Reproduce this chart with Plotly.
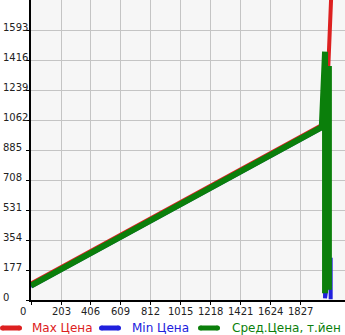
import plotly.graph_objects as go

# x tick / y tick values
x_ticks = [0, 203, 406, 609, 812, 1015, 1218, 1421, 1624, 1827]
y_ticks = [0, 177, 354, 531, 708, 885, 1062, 1239, 1416, 1593]

# series
series_names = ['Max Цена', 'Min Цена', 'Сред.Цена, т.йен']

max_x = [0, 1969, 2012, 2032]
max_y = [97, 1032, 1375, 1800]

min_x = [0, 1969, 1990, 1990, 2028, 2028]
min_y = [80, 1015, 1000, 10, 250, 5]

avg_x = [0, 1968, 1990, 1990, 2016, 2016]
avg_y = [85, 1020, 1465, 40, 1380, 60]

RED = '#dd2020'
BLUE = '#2020dd'
GREEN = '#0b7f0b'
COLORS = [RED, BLUE, GREEN]
FONT = 'DejaVu Sans'

fig = go.Figure()
fig.add_trace(go.Scatter(x=max_x, y=max_y, mode='lines', name=series_names[0],
                         line=dict(color=RED, width=4)))
fig.add_trace(go.Scatter(x=min_x, y=min_y, mode='lines', name=series_names[1],
                         line=dict(color=BLUE, width=4)))
fig.add_trace(go.Scatter(x=avg_x, y=avg_y, mode='lines', name=series_names[2],
                         line=dict(color=GREEN, width=6)))

L, PW, PH = 31, 314, 300
def px_x(p):
    return (p - L) / PW
def px_y(p):
    return (PH - p) / PH

annotations = []
shapes = []
for v in y_ticks:
    annotations.append(dict(x=0, xref='paper', xshift=-30, y=v, yref='y', yshift=3,
                            text=str(v), showarrow=False, xanchor='left', yanchor='middle',
                            font=dict(family=FONT, size=10, color='#222222')))
for v in x_ticks:
    annotations.append(dict(x=v, xref='x', xshift=(-8 if v == 0 else 0), y=0, yref='paper',
                            yshift=-11, text=str(v), showarrow=False,
                            xanchor='center', yanchor='middle',
                            font=dict(family=FONT, size=10, color='#222222')))

# legend (drawn manually: rounded line symbol + coloured label)
leg_items = [(0, 30), (99, 130), (198, 230)]
LY = 328
for (lx, tx), name, col in zip(leg_items, series_names, COLORS):
    common = dict(xref='paper', yref='paper', xsizemode='pixel', ysizemode='pixel',
                  xanchor=px_x(lx), yanchor=px_y(LY), fillcolor=col,
                  line=dict(width=0), layer='above')
    shapes.append(dict(type='rect', x0=2.5, x1=19.5, y0=-2.5, y1=2.5, **common))
    shapes.append(dict(type='circle', x0=0, x1=5, y0=-2.5, y1=2.5, **common))
    shapes.append(dict(type='circle', x0=17, x1=22, y0=-2.5, y1=2.5, **common))
    annotations.append(dict(x=px_x(tx), xref='paper', y=px_y(LY), yref='paper',
                            text=name, showarrow=False, xanchor='left', yanchor='middle',
                            font=dict(family=FONT, size=12, color=col)))

fig.update_layout(
    width=345, height=335,
    margin=dict(l=31, r=0, t=0, b=35, autoexpand=False),
    paper_bgcolor='white', plot_bgcolor='#f6f6f6',
    font=dict(family=FONT, size=10, color='#222222'),
    showlegend=False,
    annotations=annotations,
    shapes=shapes,
)
fig.update_xaxes(range=[0, 2125], tickvals=x_ticks, showticklabels=False,
                 showgrid=True, gridcolor='#c4c4c4', gridwidth=1,
                 showline=True, linecolor='black', linewidth=2,
                 ticks='outside', ticklen=3, tickcolor='black',
                 zeroline=False, fixedrange=True)
fig.update_yaxes(range=[0, 1770], tickvals=y_ticks, showticklabels=False,
                 showgrid=True, gridcolor='#c4c4c4', gridwidth=1,
                 showline=True, linecolor='black', linewidth=2,
                 ticks='outside', ticklen=3, tickcolor='black',
                 zeroline=False, fixedrange=True)

fig.write_html("out.html", config={'displayModeBar': False})
